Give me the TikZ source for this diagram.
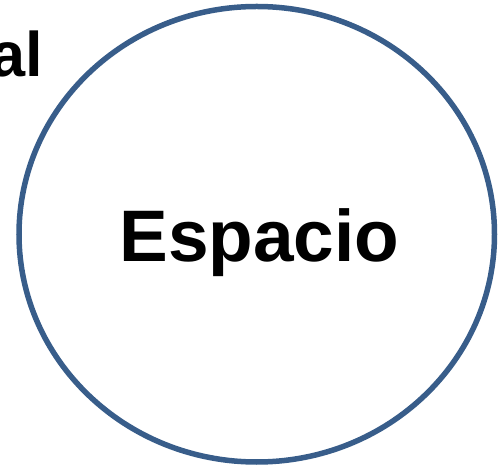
\documentclass[tikz,border=0pt]{standalone}
\usepackage{fontspec}
\setmainfont{Liberation Sans}
\usetikzlibrary{shapes.geometric}
\definecolor{ringblue}{HTML}{385D8A}
\begin{document}
\begin{tikzpicture}[x=1pt,y=1pt,
  ring/.style={draw=ringblue,line width=5.5pt},
  bigtext/.style={inner sep=0pt,font=\bfseries\fontsize{73}{73}\selectfont},
  sidetext/.style={inner sep=0pt,font=\bfseries\fontsize{63}{63}\selectfont}]
\useasboundingbox (0,0) rectangle (498,466);
\node[ring,ellipse,minimum width=475.5pt,minimum height=455.5pt,inner sep=0pt] (circ) at (256.75,231.75) {};
\node[bigtext,anchor=base] (lbl) at (259.5,204) {Espacio};
\node[sidetext,anchor=base east] (side) at (43,389) {al};
\end{tikzpicture}
\end{document}
